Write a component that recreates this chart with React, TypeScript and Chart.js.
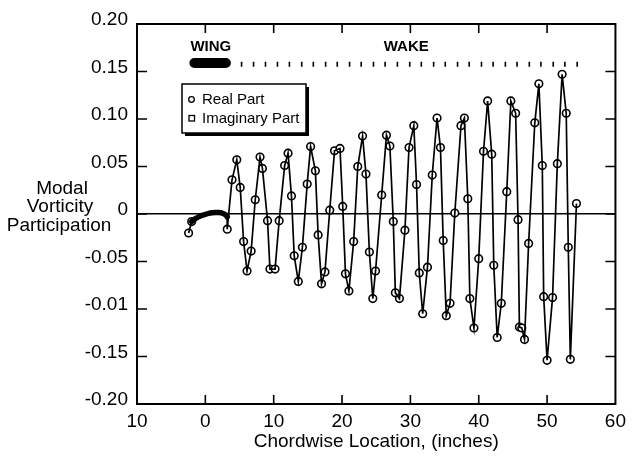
import { useEffect, useRef } from 'react';
import { Chart, registerables } from 'chart.js';

Chart.register(...registerables);

const FONT = '"Liberation Sans", Arial, Helvetica, sans-serif';

// Axis tick labels as printed on the original figure
const xTickLabels = ['10', '0', '10', '20', '30', '40', '50', '60'];
const yTickLabels = ['-0.20', '-0.15', '-0.01', '-0.05', '0', '0.05', '0.10', '0.15', '0.20'];

// Real part (circle markers)
const realX = [
  -2.45, -2.0, 3.2, 3.9, 4.6, 5.1, 5.6, 6.1, 6.7, 7.3, 8.0, 8.35, 9.1, 9.45, 10.2, 10.8,
  11.6, 12.1, 12.6, 13.0, 13.6, 14.2, 14.9, 15.4, 16.1, 16.5, 17.0, 17.5, 18.2, 18.9, 19.7,
  20.1, 20.5, 21.0, 21.7, 22.3, 23.0, 23.5, 24.0, 24.5, 24.9, 25.8, 26.5, 27.0, 27.5, 27.8,
  28.4, 29.2, 29.8, 30.5, 30.9, 31.3, 31.8, 32.5, 33.2, 33.9, 34.4, 34.8, 35.25, 35.8, 36.5,
  37.4, 37.9, 38.4, 38.7, 39.3, 40.0, 40.7, 41.3, 41.9, 42.2, 42.7, 43.3, 44.1, 44.7, 45.4,
  45.75, 45.95, 46.3, 46.7, 47.3, 48.2, 48.8, 49.3, 49.5, 50.0, 50.8, 51.5, 52.2, 52.8, 53.1,
  53.4, 54.3,
];
const realY = [
  -0.020, -0.008, -0.016, 0.036, 0.057, 0.028, -0.029, -0.060, -0.039, 0.015, 0.060, 0.048,
  -0.007, -0.058, -0.058, -0.007, 0.051, 0.064, 0.019, -0.044, -0.071, -0.035, 0.0315, 0.071,
  0.0455, -0.022, -0.0735, -0.061, 0.004, 0.0665, 0.069, 0.008, -0.063, -0.081, -0.029, 0.050,
  0.082, 0.042, -0.040, -0.089, -0.060, 0.020, 0.083, 0.0715, -0.008, -0.083, -0.089, -0.017,
  0.070, 0.093, 0.031, -0.062, -0.105, -0.056, 0.041, 0.101, 0.070, -0.028, -0.107, -0.094,
  0.001, 0.093, 0.101, 0.016, -0.089, -0.120, -0.047, 0.066, 0.119, 0.063, -0.054, -0.130,
  -0.094, 0.0235, 0.119, 0.106, -0.006, -0.119, -0.120, -0.132, -0.031, 0.096, 0.137, 0.051,
  -0.087, -0.154, -0.088, 0.053, 0.147, 0.106, -0.035, -0.153, 0.011,
];

// Dense wing-region curve (drawn as a thick line)
const wingCurveX = [-2.0, -1.5, -1.0, -0.5, 0.0, 0.5, 1.0, 1.5, 2.0, 2.5, 3.0, 3.2];
const wingCurveY = [-0.008, -0.005, -0.003, -0.0015, -0.0003, 0.0007, 0.0013, 0.0016, 0.0015, 0.0008, -0.001, -0.003];

// WING bar and WAKE marks
const wingBarX = [-1.6, 3.0];
const wingBarY = 0.159;
const wakeTickX = [
  5.3, 7.05, 8.8, 10.55, 12.3, 14.1, 15.8, 17.6, 19.3, 21.1, 22.8, 24.6, 26.3, 28.1, 29.9,
  31.6, 33.4, 35.1, 36.9, 38.6, 40.4, 42.1, 43.9, 45.6, 47.4, 49.1, 50.9, 52.6, 54.4,
];
const wakeTickY = 0.1576;

const innerTickX = [0, 10, 20, 30, 40, 50];
const innerTickY = [-0.15, -0.1, -0.05, 0, 0.05, 0.1, 0.15];

const realPoints = realX.map((x, i) => ({ x, y: realY[i] }));
const wingCurve = wingCurveX.map((x, i) => ({ x, y: wingCurveY[i] }));
const linePoints = [...realPoints.slice(0, 2), ...wingCurve, ...realPoints.slice(2)];

const decorPlugin = {
  id: 'decor',
  afterDraw(chart: any) {
    const { ctx, chartArea } = chart;
    const xs = chart.scales.x;
    const ys = chart.scales.y;
    const { left, right, top, bottom } = chartArea;
    ctx.save();
    ctx.strokeStyle = '#000';
    ctx.fillStyle = '#000';

    // frame
    ctx.lineWidth = 2;
    ctx.strokeRect(left, top, right - left, bottom - top);

    // inner ticks
    ctx.lineWidth = 1.6;
    ctx.beginPath();
    innerTickX.forEach((v) => {
      const px = xs.getPixelForValue(v);
      ctx.moveTo(px, bottom);
      ctx.lineTo(px, bottom - 9);
      ctx.moveTo(px, top);
      ctx.lineTo(px, top + 9);
    });
    innerTickY.forEach((v) => {
      const py = ys.getPixelForValue(v);
      ctx.moveTo(left, py);
      ctx.lineTo(left + 10, py);
      ctx.moveTo(right, py);
      ctx.lineTo(right - 10, py);
    });
    ctx.stroke();

    // WING / WAKE labels
    ctx.font = `bold 15px ${FONT}`;
    ctx.textAlign = 'center';
    ctx.textBaseline = 'middle';
    ctx.fillText('WING', xs.getPixelForValue(0.8), ys.getPixelForValue(0.176));
    ctx.fillText('WAKE', xs.getPixelForValue(29.4), ys.getPixelForValue(0.176));

    // legend box with shadow
    const bx = 182, by = 84, bw = 124, bh = 49;
    ctx.fillRect(bx + 3, by + bh, bw, 3);
    ctx.fillRect(bx + bw, by + 3, 3, bh);
    ctx.fillStyle = '#fff';
    ctx.fillRect(bx, by, bw, bh);
    ctx.lineWidth = 1.5;
    ctx.strokeRect(bx, by, bw, bh);
    ctx.fillStyle = '#000';
    ctx.lineWidth = 1.3;
    ctx.beginPath();
    ctx.arc(191.5, 99.5, 2.8, 0, Math.PI * 2);
    ctx.stroke();
    ctx.strokeRect(189, 115.5, 5.5, 5.5);
    ctx.font = `15px ${FONT}`;
    ctx.textAlign = 'left';
    ctx.fillText('Real Part', 202, 100);
    ctx.fillText('Imaginary Part', 202, 118.5);

    // y-axis title
    ctx.font = `19px ${FONT}`;
    ctx.textAlign = 'center';
    ctx.fillText('Modal', 62, 189);
    ctx.fillText('Vorticity', 60, 207);
    ctx.fillText('Participation', 59, 226);
    ctx.restore();
  },
};

export default function App() {
  const ref = useRef<HTMLCanvasElement>(null);
  useEffect(() => {
    const chart = new Chart(ref.current as HTMLCanvasElement, {
      type: 'scatter',
      data: {
        datasets: [
          {
            label: 'Real Part markers',
            data: realPoints,
            showLine: false,
            pointRadius: 3.8,
            pointBorderWidth: 1.6,
            pointBorderColor: '#000',
            pointBackgroundColor: '#fff',
            order: 3,
          },
          {
            label: 'Real Part line',
            data: linePoints,
            showLine: true,
            borderColor: '#000',
            borderWidth: 1.7,
            pointRadius: 0,
            tension: 0,
            order: 2,
          },
          {
            label: 'wing curve',
            data: wingCurve,
            showLine: true,
            borderColor: '#000',
            borderWidth: 5.5,
            borderCapStyle: 'round',
            pointRadius: 0,
            tension: 0.3,
            order: 1,
          },
          {
            label: 'wing bar',
            data: wingBarX.map((x) => ({ x, y: wingBarY })),
            showLine: true,
            borderColor: '#000',
            borderWidth: 10,
            borderCapStyle: 'round',
            pointRadius: 0,
            order: 1,
          },
          {
            label: 'wake',
            data: wakeTickX.map((x) => ({ x, y: wakeTickY })),
            showLine: false,
            pointStyle: 'line',
            rotation: 90,
            pointRadius: 2.5,
            pointBorderWidth: 1.6,
            pointBorderColor: '#000',
            order: 1,
          },
        ] as any,
      },
      options: {
        animation: false,
        responsive: false,
        layout: { padding: { left: 0, top: 24, right: 9, bottom: 0 } },
        plugins: { legend: { display: false }, tooltip: { enabled: false } },
        scales: {
          x: {
            type: 'linear',
            min: -10,
            max: 60,
            afterFit: (s: any) => { s.height = 53; },
            border: { display: false },
            grid: { display: false, drawTicks: false },
            ticks: {
              stepSize: 10,
              padding: 6,
              color: '#000',
              font: { family: FONT, size: 19 },
              callback: (_v: any, i: number) => xTickLabels[i],
            },
            title: {
              display: true,
              text: 'Chordwise Location, (inches)',
              color: '#000',
              font: { family: FONT, size: 19 },
              padding: { top: 0, bottom: 4 },
            },
          },
          y: {
            type: 'linear',
            min: -0.2,
            max: 0.2,
            afterFit: (s: any) => { s.width = 137; },
            border: { display: false },
            grid: {
              drawTicks: false,
              lineWidth: 1.6,
              color: (c: any) => (c.tick && Math.abs(c.tick.value) < 1e-9 ? '#000' : 'rgba(0,0,0,0)'),
            },
            ticks: {
              stepSize: 0.05,
              padding: 9,
              labelOffset: -4,
              color: '#000',
              font: { family: FONT, size: 19 },
              callback: (_v: any, i: number) => yTickLabels[i],
            },
          },
        },
      },
      plugins: [decorPlugin],
    } as any);
    return () => chart.destroy();
  }, []);
  return (
    <div style={{ position: 'absolute', left: 0, top: 0, width: 632, height: 457, background: '#fff' }}>
      <canvas ref={ref} width={632} height={457} style={{ display: 'block' }} />
    </div>
  );
}
